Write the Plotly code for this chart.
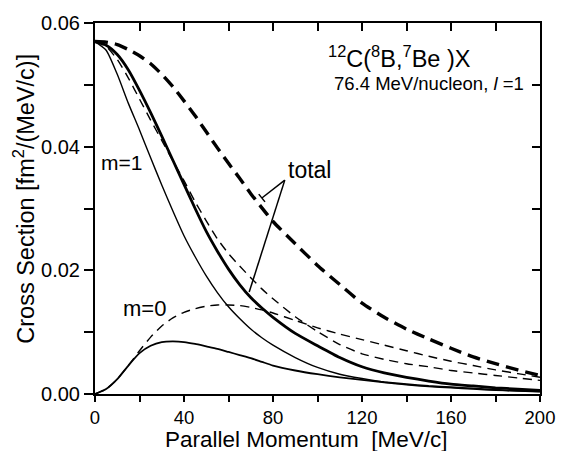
import plotly.graph_objects as go

# Parallel momentum grid [MeV/c]
p_par = [0, 5, 10, 15, 20, 25, 30, 35, 40, 45, 50, 55, 60, 65, 70, 75, 80,
         90, 100, 110, 120, 130, 140, 150, 160, 170, 180, 190, 200]

# Cross sections [fm^2/(MeV/c)]
total_dashed = [0.0570, 0.0569, 0.0565, 0.0557, 0.0547, 0.0534, 0.0517, 0.0497, 0.0474,
                0.0450, 0.0424, 0.0398, 0.0373, 0.0349, 0.0324, 0.0301, 0.0279,
                0.0243, 0.0208, 0.0177, 0.0147, 0.0124, 0.0105, 0.0089, 0.0074,
                0.0060, 0.0049, 0.0039, 0.0030]
total_solid = [0.0570, 0.0564, 0.0549, 0.0524, 0.0491, 0.0455, 0.0417, 0.0378, 0.0339,
               0.0300, 0.0263, 0.0231, 0.0202, 0.0177, 0.0156, 0.0139, 0.0124,
               0.0098, 0.0078, 0.0059, 0.0044, 0.0034, 0.0027, 0.0021, 0.0016,
               0.0013, 0.0010, 0.0008, 0.0006]
m1_solid = [0.0570, 0.0556, 0.0517, 0.0470, 0.0427, 0.0382, 0.0338, 0.0296, 0.0256,
            0.0222, 0.0191, 0.0164, 0.0141, 0.0122, 0.0105, 0.0091, 0.0079,
            0.0059, 0.0043, 0.0032, 0.0025, 0.0019, 0.0015, 0.0012, 0.0010,
            0.0008, 0.0006, 0.0005, 0.0004]
m0_solid = [0.0, 0.0008, 0.0024, 0.0046, 0.0066, 0.0078, 0.0084, 0.0085, 0.0084,
            0.0081, 0.0077, 0.0073, 0.0068, 0.0063, 0.0058, 0.0052, 0.0046,
            0.0038, 0.0032, 0.0027, 0.0023, 0.0019, 0.0016, 0.0013, 0.0011,
            0.0009, 0.0007, 0.0005, 0.0004]
m1_dashed = [0.0570, 0.0562, 0.0541, 0.0511, 0.0477, 0.0443, 0.0410, 0.0377, 0.0345,
             0.0311, 0.0280, 0.0251, 0.0227, 0.0207, 0.0188, 0.0170, 0.0154,
             0.0125, 0.0101, 0.0080, 0.0065, 0.0056, 0.0049, 0.0044, 0.0038,
             0.0034, 0.0030, 0.0026, 0.0022]
m0_dashed = [0.0, 0.0008, 0.0024, 0.0046, 0.0070, 0.0092, 0.0110, 0.0123, 0.0132,
             0.0138, 0.0142, 0.0144, 0.0144, 0.0143, 0.0140, 0.0136, 0.0131,
             0.0119, 0.0107, 0.0097, 0.0088, 0.0079, 0.0070, 0.0061, 0.0053,
             0.0046, 0.0039, 0.0033, 0.0027]

x_ticks = [0, 40, 80, 120, 160, 200]
y_ticks = [0.00, 0.02, 0.04, 0.06]
y_tick_text = ["0.00", "0.02", "0.04", "0.06"]

FONT = "Liberation Sans, Arial, Helvetica, sans-serif"

# (values, width, dash) per curve
curves = [
    (m1_solid, 1.4, "solid"),
    (m0_solid, 1.8, "solid"),
    (total_solid, 2.8, "solid"),
    (m1_dashed, 1.4, "9px,6px"),
    (m0_dashed, 1.4, "9px,6px"),
    (total_dashed, 3.4, "13px,7px"),
]

fig = go.Figure()
for vals, w, dash in curves:
    fig.add_trace(go.Scatter(
        x=p_par, y=vals, mode="lines",
        line=dict(color="black", width=w, dash=dash, shape="spline", smoothing=0.6),
        showlegend=False, hoverinfo="skip"))

# empty trace so the top/right tick axes get drawn
fig.add_trace(go.Scatter(x=[None], y=[None], xaxis="x2", yaxis="y2",
                         showlegend=False, hoverinfo="skip"))

axis_common = dict(showgrid=False, zeroline=False, showline=True,
                   linecolor="black", linewidth=2, tickcolor="black", tickwidth=1.5)

fig.update_layout(
    width=567, height=451,
    margin=dict(l=95, r=26, t=21, b=57),
    paper_bgcolor="white", plot_bgcolor="white",
    font=dict(family=FONT, color="black", size=19),
    xaxis=dict(range=[0, 200], tickvals=x_ticks, ticks="outside", ticklen=6,
               minor=dict(dtick=20, tick0=0, ticks="outside", ticklen=6,
                          tickcolor="black", tickwidth=1.5),
               tickfont=dict(size=18.5), ticklabelstandoff=0, **axis_common),
    yaxis=dict(range=[0, 0.06], tickvals=y_ticks, ticktext=y_tick_text,
               ticks="outside", ticklen=9,
               minor=dict(dtick=0.01, tick0=0, ticks="outside", ticklen=9,
                          tickcolor="black", tickwidth=1.5),
               tickfont=dict(size=20), **axis_common),
    xaxis2=dict(range=[0, 200], overlaying="x", side="top", anchor="y2",
                dtick=20, tick0=0, ticks="inside", ticklen=8, showticklabels=False,
                **axis_common),
    yaxis2=dict(range=[0, 0.06], overlaying="y", side="right", anchor="x2",
                dtick=0.01, tick0=0, ticks="inside", ticklen=8, showticklabels=False,
                **axis_common),
)

# axis titles
fig.add_annotation(text="Parallel Momentum  [MeV/c]", xref="paper", yref="paper",
                   x=0.475, y=-0.1225, xanchor="center", yanchor="middle",
                   showarrow=False, font=dict(size=22.5))
fig.add_annotation(text="Cross Section [fm<sup>2</sup>/(MeV/c)]", xref="paper", yref="paper",
                   x=-0.159, y=0.527, xanchor="center", yanchor="middle",
                   textangle=-90, showarrow=False, font=dict(size=23.5))

# reaction labels
fig.add_annotation(text="<sup>12</sup>C(<sup>8</sup>B,<sup>7</sup>Be )X",
                   xref="paper", yref="paper", x=0.684, y=0.909,
                   xanchor="center", yanchor="middle", showarrow=False, font=dict(size=23.5))
fig.add_annotation(text="76.4 MeV/nucleon, <i>l</i> =1",
                   xref="paper", yref="paper", x=0.751, y=0.836,
                   xanchor="center", yanchor="middle", showarrow=False, font=dict(size=18.5))

# curve labels
fig.add_annotation(text="m=1", x=11.8, y=0.0375, showarrow=False, font=dict(size=21))
fig.add_annotation(text="m=0", x=22.1, y=0.0139, showarrow=False, font=dict(size=22))
fig.add_annotation(text="total", x=96.2, y=0.0363, showarrow=False, font=dict(size=23))

# pointer lines from "total"
pointer_origin = (85.3, 0.03459)
pointer_ends = [(75.0, 0.03170), (69.3, 0.01648)]
for xe, ye in pointer_ends:
    fig.add_shape(type="line", x0=pointer_origin[0], y0=pointer_origin[1], x1=xe, y1=ye,
                  xref="x", yref="y", line=dict(color="black", width=1.5))
fig.add_shape(type="line", x0=76.4, y0=0.03107, x1=73.6, y1=0.03232,
              xref="x", yref="y", line=dict(color="black", width=1.5))

fig.write_html("out.html")
